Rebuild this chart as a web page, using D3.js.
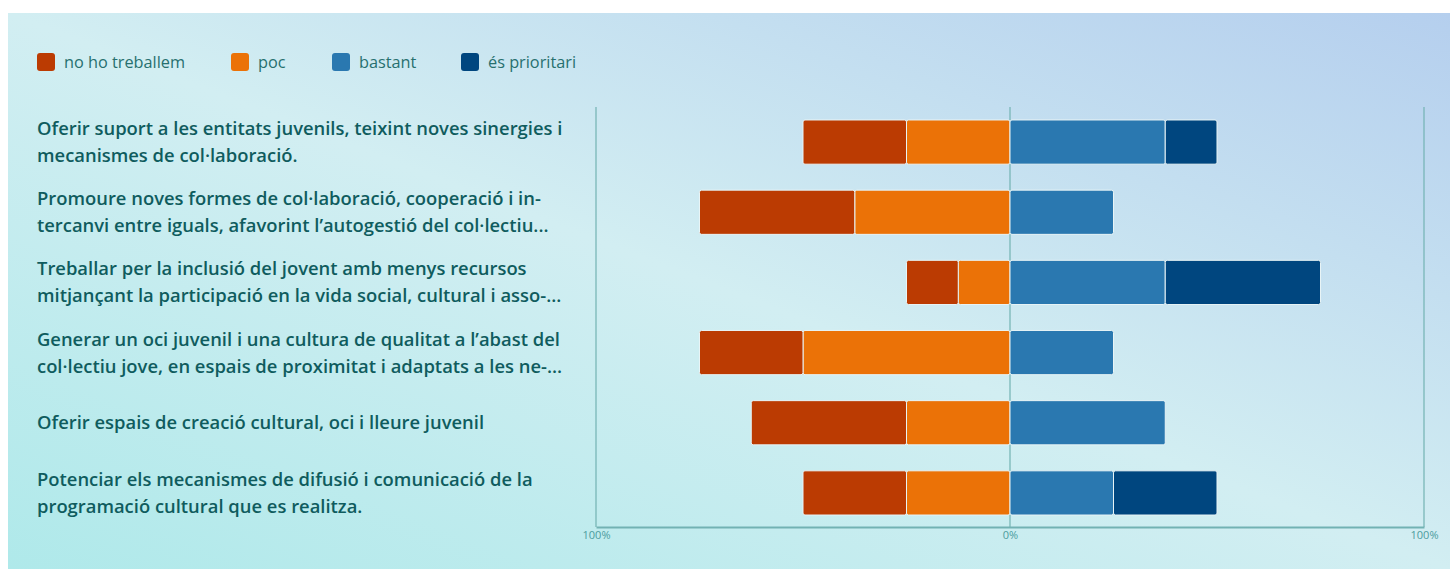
<!DOCTYPE html>
<html lang="en">
<head>
<meta charset="UTF-8">
<title>Diverging bars</title>
<script src="https://d3js.org/d3.v7.min.js"></script>
<style>
  body { margin: 0; background: #fff; }
  .label { font-family: "Open Sans", sans-serif; font-weight: 600; font-size: 18.4px; fill: #0f5c5e; }
  .legend text { font-family: "Open Sans", sans-serif; font-size: 16.3px; fill: #27706f; }
  .axis text { font-family: "Open Sans", sans-serif; font-size: 11px; fill: #4c9c9e; }
</style>
</head>
<body>
<svg width="1450" height="569"></svg>
<script>
// categories (each label split in display lines)
let categories = [
  ["Oferir suport a les entitats juvenils, teixint noves sinergies i", "mecanismes de col·laboració."],
  ["Promoure noves formes de col·laboració, cooperació i in-", "tercanvi entre iguals, afavorint l’autogestió del col·lectiu..."],
  ["Treballar per la inclusió del jovent amb menys recursos", "mitjançant la participació en la vida social, cultural i asso-..."],
  ["Generar un oci juvenil i una cultura de qualitat a l’abast del", "col·lectiu jove, en espais de proximitat i adaptats a les ne-..."],
  ["Oferir espais de creació cultural, oci i lleure juvenil"],
  ["Potenciar els mecanismes de difusió i comunicació de la", "programació cultural que es realitza."]
];
let seriesNames = ["no ho treballem", "poc", "bastant", "és prioritari"];
let seriesColors = ["#bb3b02", "#eb7207", "#2a78b0", "#00467f"];

// percentages per category
let noHoTreballem = [25, 37.5, 12.5, 25, 37.5, 25];
let poc           = [25, 37.5, 12.5, 50, 25, 25];
let bastant       = [37.5, 25, 37.5, 25, 37.5, 25];
let esPrioritari  = [12.5, 0, 37.5, 0, 0, 25];

let tickValues = [-100, 0, 100];

let svg = d3.select("svg");

// background
let defs = svg.append("defs");
let grad = defs.append("linearGradient")
  .attr("id", "bg")
  .attr("x1", 0).attr("y1", 1).attr("x2", 1).attr("y2", 0);
grad.append("stop").attr("offset", "0%").attr("stop-color", "#afe9ea");
grad.append("stop").attr("offset", "50%").attr("stop-color", "#d2eef2");
grad.append("stop").attr("offset", "100%").attr("stop-color", "#b5cfee");

svg.append("rect")
  .attr("x", 8).attr("y", 13)
  .attr("width", 1442).attr("height", 556)
  .attr("fill", "url(#bg)");

let x = d3.scaleLinear().domain([-100, 100]).range([596, 1424]);
let y = d3.scaleBand()
  .domain(d3.range(categories.length))
  .range([107, 528])
  .paddingInner(0.37)
  .paddingOuter(0.185);

// build segments: left side grows outward from 0
let segs = [];
categories.forEach((c, i) => {
  let left = [[1, poc[i]], [0, noHoTreballem[i]]];
  let acc = 0;
  left.forEach(([s, v]) => {
    if (v > 0) segs.push({ row: i, s: s, x0: -(acc + v), x1: -acc });
    acc += v;
  });
  let right = [[2, bastant[i]], [3, esPrioritari[i]]];
  acc = 0;
  right.forEach(([s, v]) => {
    if (v > 0) segs.push({ row: i, s: s, x0: acc, x1: acc + v });
    acc += v;
  });
});

// grid / frame lines
let axisColor = "#72b2b3";
svg.append("g").selectAll("line")
  .data(tickValues)
  .join("line")
  .attr("x1", d => x(d)).attr("x2", d => x(d))
  .attr("y1", 107).attr("y2", 527)
  .attr("stroke", axisColor)
  .attr("stroke-width", 1.2);

// bars
svg.append("g").selectAll("rect")
  .data(segs)
  .join("rect")
  .attr("x", d => x(d.x0))
  .attr("y", d => y(d.row))
  .attr("width", d => x(d.x1) - x(d.x0))
  .attr("height", y.bandwidth())
  .attr("rx", 2)
  .attr("fill", d => seriesColors[d.s])
  .attr("stroke", "#e8f4f6")
  .attr("stroke-width", 1);

// bottom axis
let xAxis = d3.axisBottom(x)
  .tickValues(tickValues)
  .tickSize(0)
  .tickPadding(4)
  .tickFormat(d => Math.abs(d) + "%");

let gX = svg.append("g")
  .attr("class", "axis")
  .attr("transform", "translate(0,527)")
  .call(xAxis);
gX.select(".domain").attr("stroke", axisColor).attr("stroke-width", 2);

// category labels
let labels = svg.append("g").selectAll("text")
  .data(categories)
  .join("text")
  .attr("class", "label")
  .attr("x", 37)
  .attr("y", (d, i) => y(i) + y.bandwidth() / 2);

labels.selectAll("tspan")
  .data(d => d.map((t, k) => ({ t, k, n: d.length })))
  .join("tspan")
  .attr("x", 37)
  .attr("dy", d => d.k === 0 ? ((-(d.n - 1) * 27) / 2 + 6.5) + "px" : "27px")
  .text(d => d.t);

// legend
let legendX = [37, 231, 332, 461];
let legend = svg.append("g").attr("class", "legend")
  .selectAll("g")
  .data(seriesNames)
  .join("g")
  .attr("transform", (d, i) => `translate(${legendX[i]},53)`);

legend.append("rect")
  .attr("width", 18).attr("height", 18).attr("rx", 3)
  .attr("fill", (d, i) => seriesColors[i]);

legend.append("text")
  .attr("x", 27).attr("y", 14.5)
  .text(d => d);
</script>
</body>
</html>
